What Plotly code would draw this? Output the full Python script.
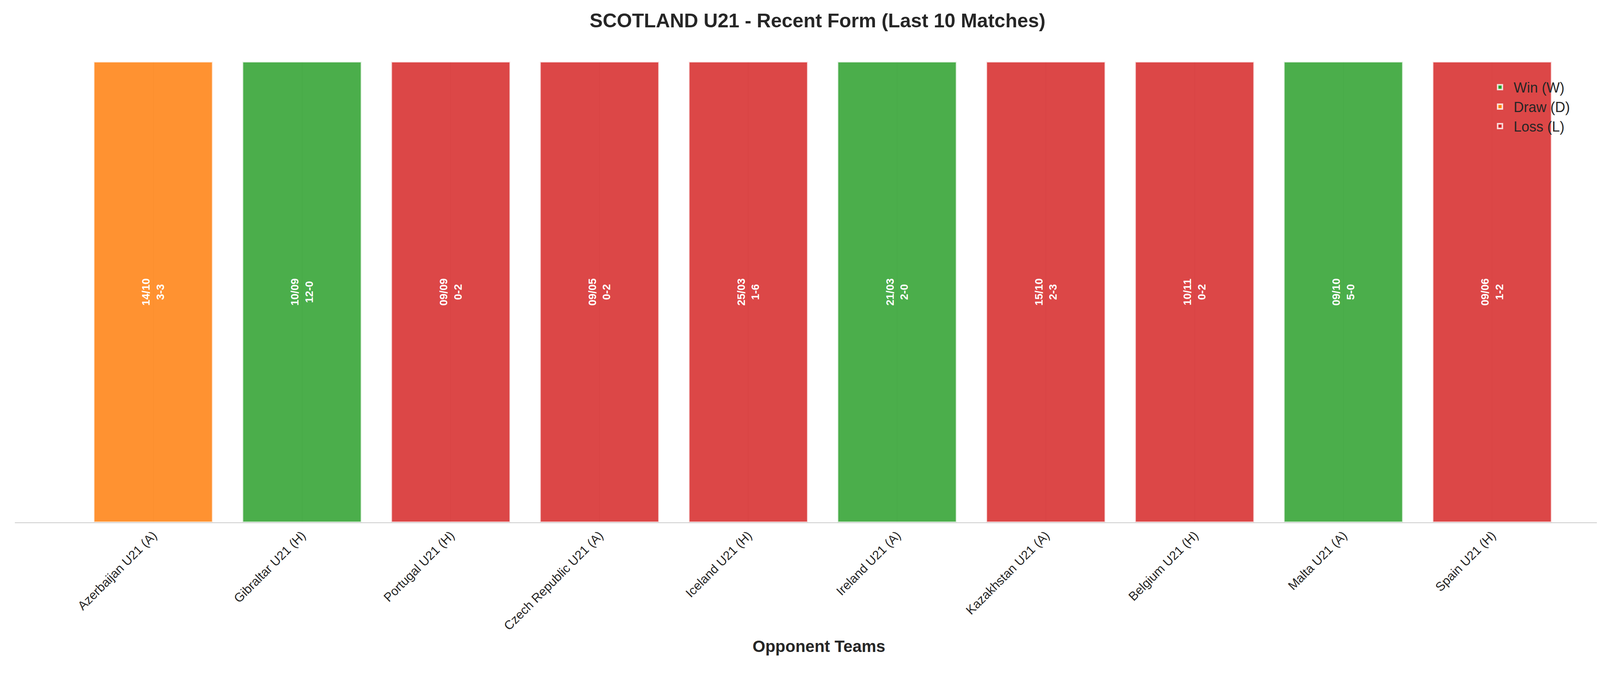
import plotly.graph_objects as go

opponents = ["Azerbaijan U21 (A)", "Gibraltar U21 (H)", "Portugal U21 (H)", "Czech Republic U21 (A)",
             "Iceland U21 (H)", "Ireland U21 (A)", "Kazakhstan U21 (A)", "Belgium U21 (H)",
             "Malta U21 (A)", "Spain U21 (H)"]
dates = ["14/10", "10/09", "09/09", "09/05", "25/03", "21/03", "15/10", "10/11", "09/10", "09/06"]
scores = ["3-3", "12-0", "0-2", "0-2", "1-6", "2-0", "2-3", "0-2", "5-0", "1-2"]
results = ["D", "W", "L", "L", "L", "W", "L", "L", "W", "L"]

res_names = {"W": "Win (W)", "D": "Draw (D)", "L": "Loss (L)"}
res_colors = {"W": "#2ca02c", "D": "#ff7f0e", "L": "#d62728"}

fig = go.Figure()
for r in ["W", "D", "L"]:
    idx = [i for i, v in enumerate(results) if v == r]
    fig.add_trace(go.Bar(
        x=[opponents[i] for i in idx], y=[1] * len(idx),
        text=[f"{dates[i]}<br>{scores[i]}" for i in idx],
        textposition="inside", insidetextanchor="middle", textangle=-90,
        textfont=dict(color="white", size=28, family="Liberation Sans, Arial"),
        texttemplate="<b>%{text}</b>",
        marker=dict(color=res_colors[r], opacity=0.85, line=dict(color="rgba(255,255,255,0.8)", width=4)),
        width=0.8, name=res_names[r], hoverinfo="skip",
    ))

fig.update_layout(
    width=4170, height=1770, barmode="overlay",
    plot_bgcolor="white", paper_bgcolor="white",
    margin=dict(l=30, r=23, t=150, b=440),
    font=dict(family="Liberation Sans, Arial", color="#262626"),
    title=dict(text="<b>SCOTLAND U21 - Recent Form (Last 10 Matches)</b>", x=0.5, xanchor="center",
               y=0.985, yanchor="top", font=dict(size=50, color="#262626")),
    legend=dict(x=0.915, xanchor="left", y=0.97, yanchor="top", font=dict(size=36),
                bgcolor="rgba(0,0,0,0)", traceorder="normal", itemwidth=60),
    showlegend=True,
)
fig.update_xaxes(categoryorder="array", categoryarray=opponents, range=[-0.93, 9.88],
                 tickangle=-45, tickfont=dict(size=32), showgrid=True, gridcolor="#dcdcdc",
                 showline=True, linecolor="#cccccc", linewidth=2, ticks="",
                 title=dict(text="<b>Opponent Teams</b>", font=dict(size=42), standoff=20))
fig.update_yaxes(range=[0, 1.0], visible=False)

fig.write_html("out.html")
